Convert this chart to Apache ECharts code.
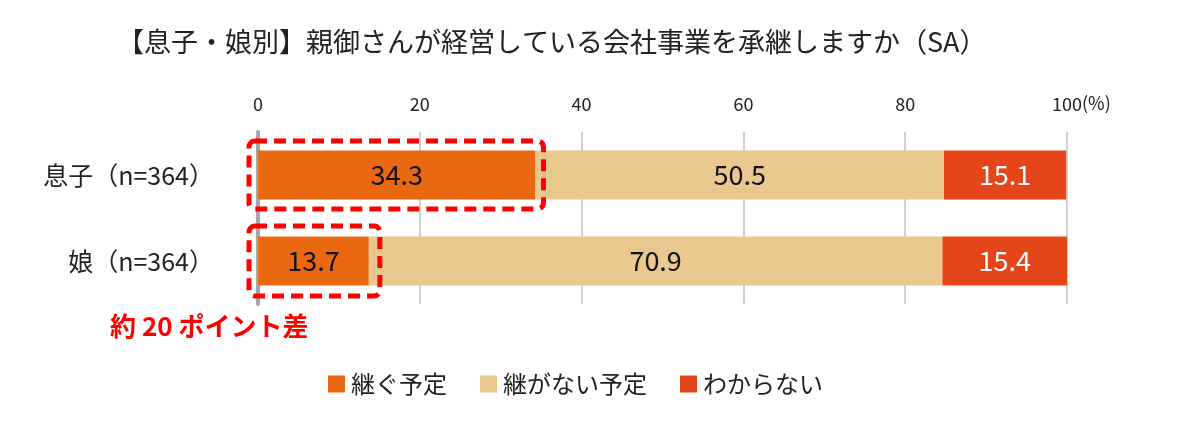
<!DOCTYPE html>
<html><head><meta charset="utf-8">
<script src="https://cdn.jsdelivr.net/npm/echarts@6/dist/echarts.min.js"></script>
<style>html,body{margin:0;padding:0;background:#fff}#c{width:1185px;height:428px}</style>
</head><body><div id="c"></div>
<script>
const categories = ['息子（n=364）', '娘（n=364）'];
const seriesNames = ['継ぐ予定', '継がない予定', 'わからない'];
const willInherit = [34.3, 13.7];
const willNotInherit = [50.5, 70.9];
const unknown = [15.1, 15.4];
const xTicks = [0, 20, 40, 60, 80, 100];

const FONT = '"Noto Sans CJK JP", "Noto Sans", sans-serif';
const colors = ['#E96811', '#E8C88F', '#E54619'];
const labelColors = ['#111', '#111', '#fff'];
const values = [willInherit, willNotInherit, unknown];

const chart = echarts.init(document.getElementById('c'));
const option = {
  animation: false,
  textStyle: { fontFamily: FONT },
  title: {
    text: '【息子・娘別】親御さんが経営している会社事業を承継しますか（SA）',
    left: 112, top: 23,
    textStyle: { fontFamily: FONT, fontSize: 27, fontWeight: 'normal', color: '#222' }
  },
  legend: {
    data: seriesNames,
    top: 367, left: 323,
    itemWidth: 17, itemHeight: 17, itemGap: 33, icon: 'rect',
    textStyle: { fontFamily: FONT, fontSize: 24, color: '#222', padding: [0, 0, 0, 1] }
  },
  grid: { left: 258, right: 118, top: 132, bottom: 124, containLabel: false },
  xAxis: {
    type: 'value', position: 'top', min: 0, max: 100, interval: 20,
    axisLine: { show: false }, axisTick: { show: false },
    splitLine: { lineStyle: { color: '#d0d0d0', width: 2 } },
    axisLabel: { fontFamily: FONT, fontSize: 18, color: '#222', margin: 19,
      formatter: v => xTicks.includes(v) ? String(v) : '' }
  },
  yAxis: {
    type: 'category', data: categories, inverse: true,
    axisLine: { show: true, lineStyle: { color: '#a6a6a6', width: 4 } },
    axisTick: { show: false },
    axisLabel: { fontFamily: FONT, fontSize: 25, color: '#222', margin: 44 }
  },
  series: seriesNames.map((name, i) => ({
    name, type: 'bar', stack: 'total', barWidth: 49,
    itemStyle: { color: colors[i] },
    label: { show: true, position: 'inside', fontFamily: FONT, fontSize: 27,
      color: labelColors[i], formatter: p => p.value.toFixed(1) },
    data: values[i]
  }))
};
chart.setOption(option);

// annotations positioned from the axis scales
function px(v, c) { return chart.convertToPixel({ gridIndex: 0 }, [v, c]); }
const graphics = [];
[[0, willInherit[0], 34, 8], [1, willInherit[1], 35, 11]].forEach(([ci, v, hh, extra]) => {
  const p0 = px(0, categories[ci]);
  const p1 = px(v, categories[ci]);
  const x0 = p0[0] - 9, x1 = p1[0] + extra;
  graphics.push({
    type: 'rect', z: 100,
    shape: { x: x0, y: p0[1] - hh, width: x1 - x0, height: hh * 2, r: 6 },
    style: { fill: 'none', stroke: '#ff0000', lineWidth: 5, lineDash: [12, 7] }
  });
});
const pTop = px(100, categories[0]);
graphics.push({
  type: 'text', left: pTop[0] + 15, top: 94,
  style: { text: '(%)', font: '18px ' + FONT, fill: '#222' }
});
graphics.push({
  type: 'text', left: 110, top: 313,
  style: { text: '約 20 ポイント差', font: 'bold 26px ' + FONT, fill: '#ff0000' }
});
chart.setOption({ graphic: graphics });
</script></body></html>
